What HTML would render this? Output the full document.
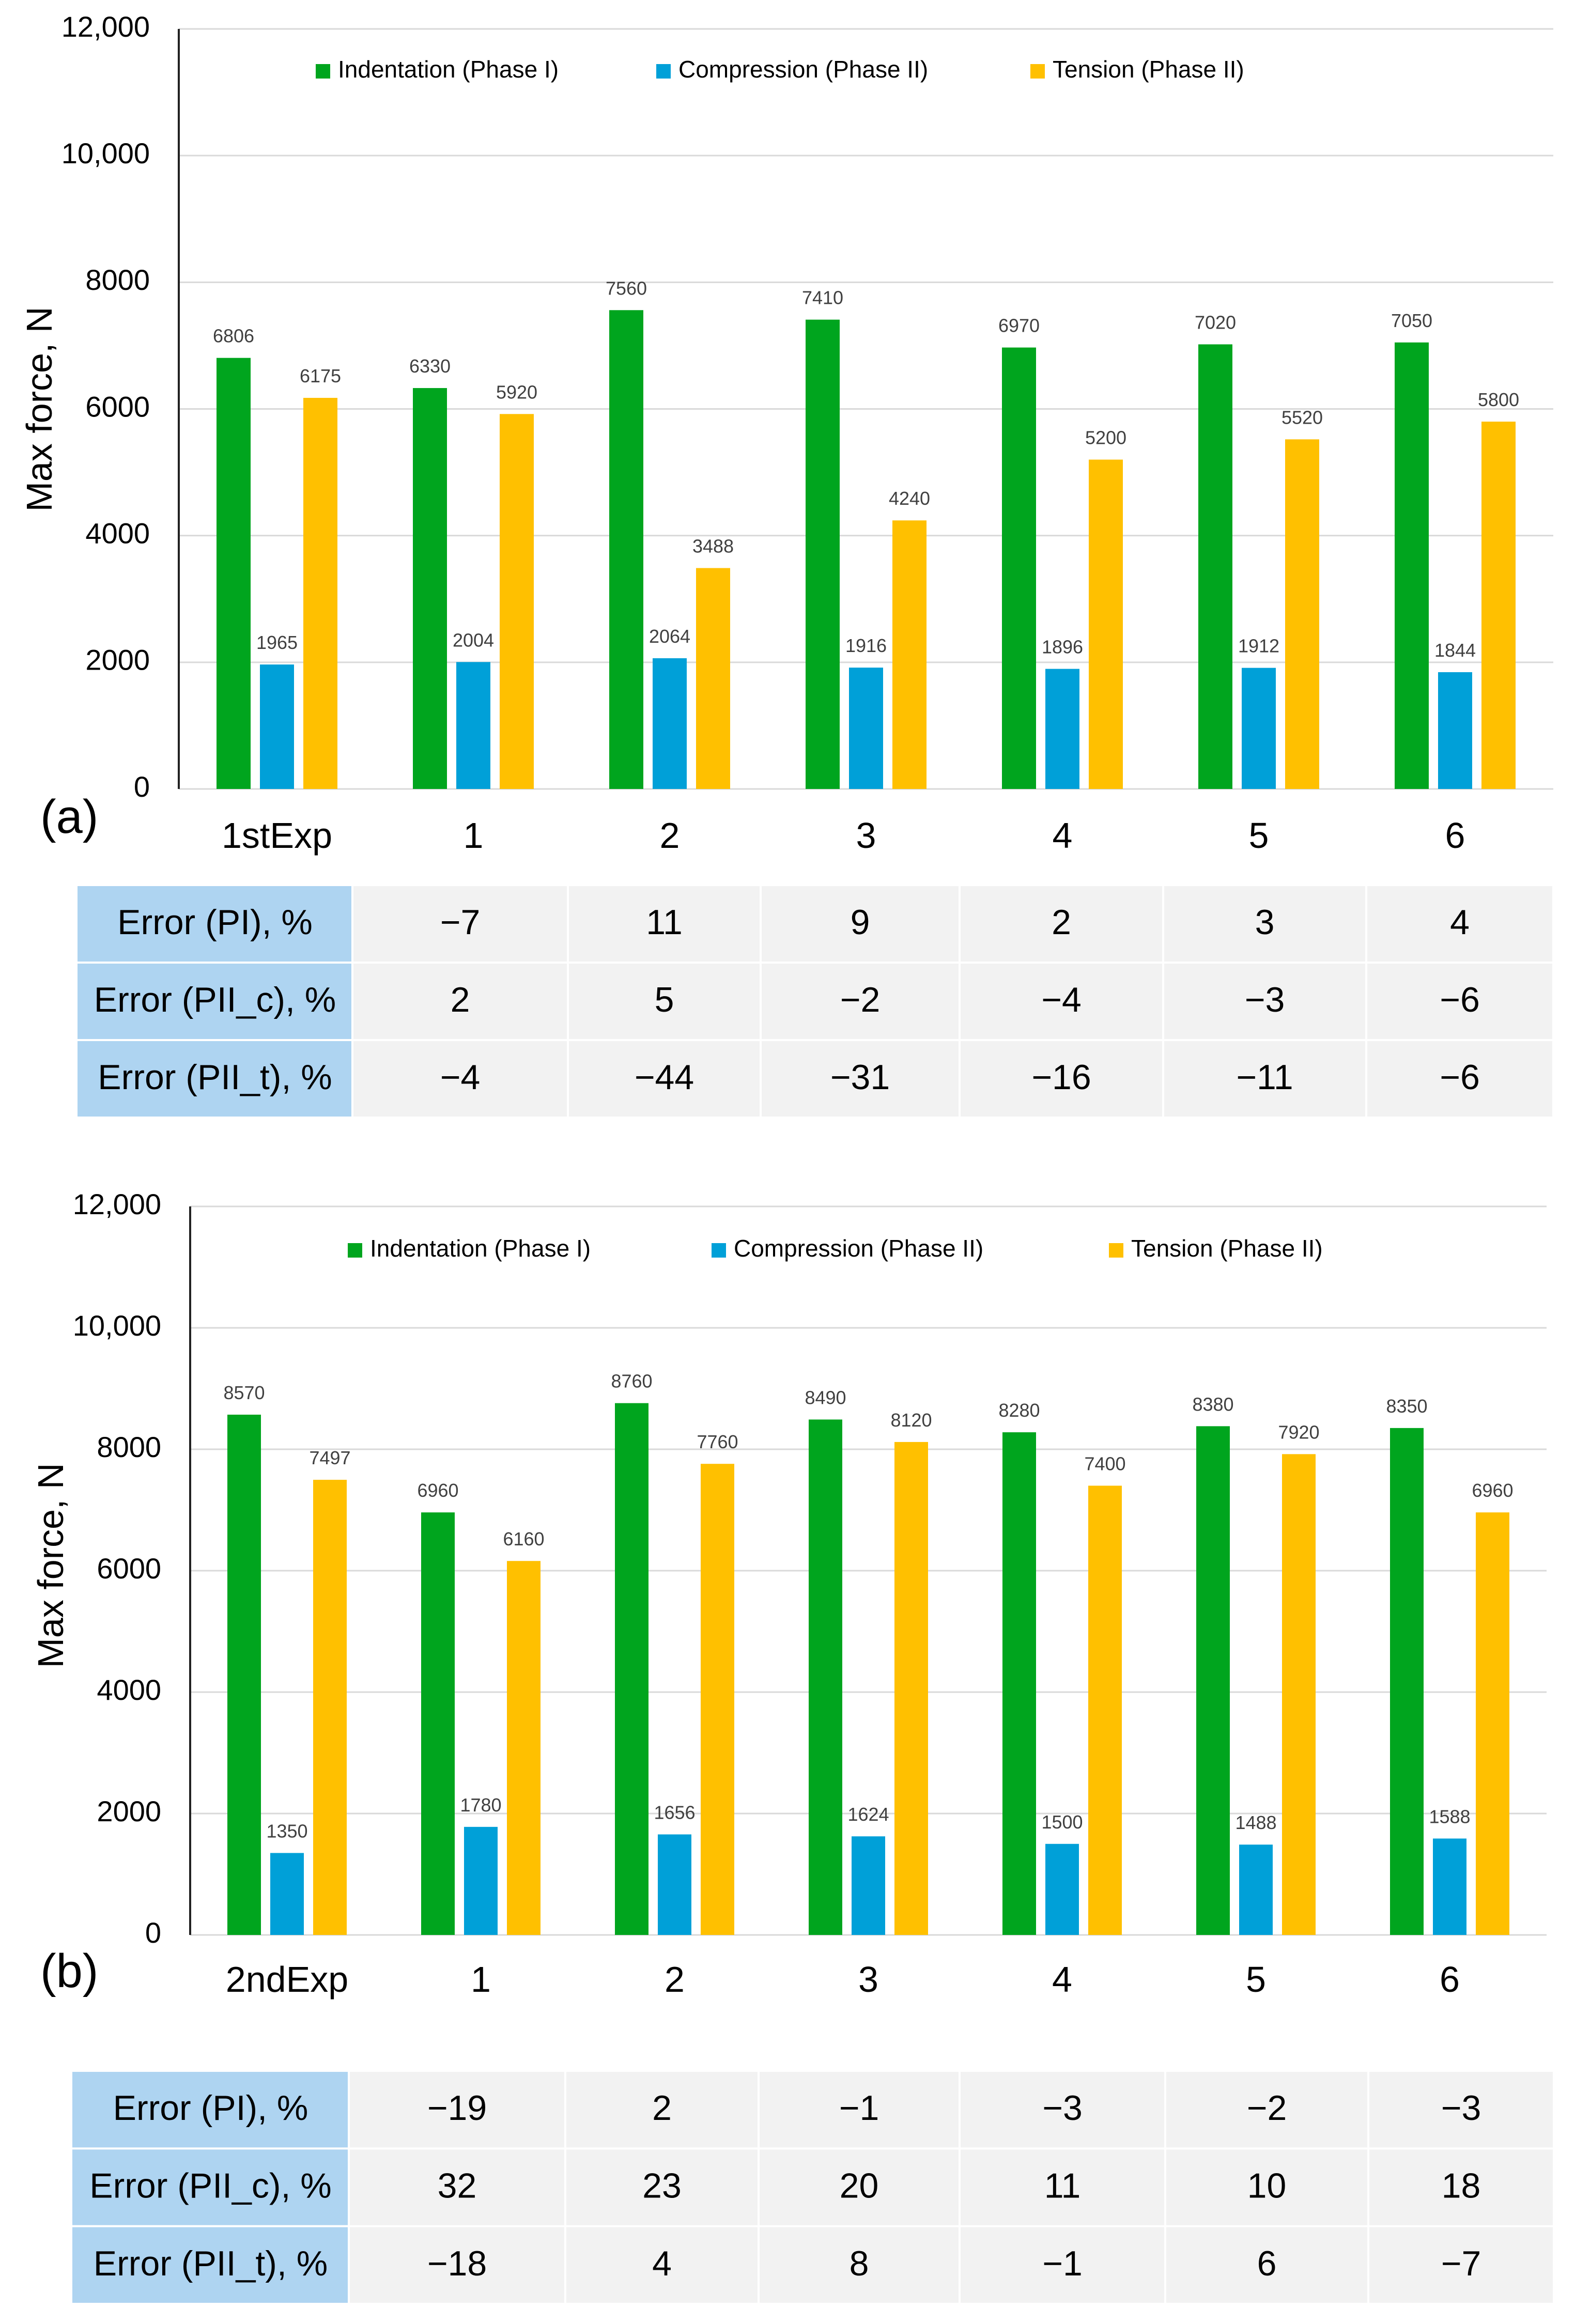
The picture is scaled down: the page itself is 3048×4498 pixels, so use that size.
<!DOCTYPE html>
<html><head><meta charset="utf-8"><style>
html,body{margin:0;padding:0;background:#fff;}
svg{display:block;font-family:"Liberation Sans",sans-serif;}
</style></head><body>
<svg id="svg" width="3048" height="4498" viewBox="0 0 3048 4498" xmlns="http://www.w3.org/2000/svg"></svg>
<script>
const catsA = ["1stExp","1","2","3","4","5","6"];
const indentA = [6806,6330,7560,7410,6970,7020,7050];
const compA = [1965,2004,2064,1916,1896,1912,1844];
const tensA = [6175,5920,3488,4240,5200,5520,5800];
const catsB = ["2ndExp","1","2","3","4","5","6"];
const indentB = [8570,6960,8760,8490,8280,8380,8350];
const compB = [1350,1780,1656,1624,1500,1488,1588];
const tensB = [7497,6160,7760,8120,7400,7920,6960];
const yTicks = [0,2000,4000,6000,8000,10000,12000];
const yTickLabels = ["0","2000","4000","6000","8000","10,000","12,000"];
const seriesNames = ["Indentation (Phase I)","Compression (Phase II)","Tension (Phase II)"];
const rowLabels = ["Error (PI), %","Error (PII_c), %","Error (PII_t), %"];
const errA_PI = ["\u22127","11","9","2","3","4"];
const errA_PIIc = ["2","5","\u22122","\u22124","\u22123","\u22126"];
const errA_PIIt = ["\u22124","\u221244","\u221231","\u221216","\u221211","\u22126"];
const errB_PI = ["\u221219","2","\u22121","\u22123","\u22122","\u22123"];
const errB_PIIc = ["32","23","20","11","10","18"];
const errB_PIIt = ["\u221218","4","8","\u22121","6","\u22127"];

const NS="http://www.w3.org/2000/svg";
const svg=document.getElementById('svg');
const colors=["#00A51E","#00A0D8","#FFC000"];
function mk(tag,attrs,parent){const e=document.createElementNS(NS,tag);for(const k in attrs)e.setAttribute(k,attrs[k]);(parent||svg).appendChild(e);return e;}

function chart(cfg){
  const g=mk('g',{});
  
  
  const yScale=v=>cfg.y0-(v/12000)*(cfg.y0-cfg.yTop);
  const band=(cfg.xR-cfg.x0)/cfg.cats.length;
  yTicks.forEach((t,i)=>{
    const y=yScale(t);
    if(t>0){const l=mk('line',{x1:cfg.x0,x2:cfg.xR,y1:y,y2:y,stroke:'#d9d9d9','stroke-width':3},g);
      
      }
    const tx=mk('text',{x:cfg.x0-56,y:y,'text-anchor':'end','dominant-baseline':'middle','font-size':56,fill:'#000'},g);
    tx.textContent=yTickLabels[i];
    
    
  });
  const base=mk('line',{x1:cfg.x0,x2:cfg.xR,y1:cfg.y0,y2:cfg.y0,stroke:'#d9d9d9','stroke-width':3},g);
  
  
  const ax=mk('line',{x1:cfg.x0,x2:cfg.x0,y1:cfg.yTop,y2:cfg.y0,stroke:'#222','stroke-width':4},g);
  
  
  const series=[cfg.s1,cfg.s2,cfg.s3];
  const bw=cfg.bw,gap=18,gw=3*bw+2*gap;
  cfg.cats.forEach((c,i)=>{
    const cx=cfg.x0+band*(i+0.5);
    series.forEach((s,k)=>{
      const x=cx-gw/2+k*(bw+gap);
      const yt=yScale(s[i]);
      const r=mk('rect',{x:x,y:yt,width:bw,height:cfg.y0-yt,fill:colors[k]},g);
      
      
      const t=mk('text',{x:x+bw/2,y:yt-30,'text-anchor':'middle','font-size':36,fill:'#404040'},g);
      t.textContent=s[i];
      
      
    });
    const ct=mk('text',{x:cx,y:cfg.catY,'text-anchor':'middle','font-size':70,fill:'#000'},g);
    ct.textContent=c;
    
    
  });
  const yt=mk('text',{x:0,y:0,'text-anchor':'middle','font-size':70,fill:'#000',transform:`translate(${cfg.titleX},${cfg.titleY}) rotate(-90)`},g);
  yt.textContent='Max force, N';
  
  
  const pl=mk('text',{x:cfg.panelX,y:cfg.panelY,'font-size':92,fill:'#000'},g);
  pl.textContent=cfg.panel;
  
  
  cfg.legX.forEach((lx,k)=>{
    const sq=mk('rect',{x:lx,y:cfg.legY-14,width:28,height:28,fill:colors[k]},g);
    
    
    const lt=mk('text',{x:lx+43,y:cfg.legY,'dominant-baseline':'middle','font-size':46,fill:'#000'},g);
    lt.textContent=seriesNames[k];
    
    
  });
}

function table(cfg){
  const g=mk('g',{});
  
  
  const rows=cfg.rows;
  const rh=(cfg.bottom-cfg.top)/3;
  rows.forEach((vals,r)=>{
    const y=cfg.top+r*rh;
    const lc=mk('rect',{x:cfg.cols[0],y:y+2,width:cfg.cols[1]-cfg.cols[0]-2,height:rh-4,fill:'#AED4F1'},g);
    
    
    const lt=mk('text',{x:(cfg.cols[0]+cfg.cols[1])/2,y:y+rh/2+2,'text-anchor':'middle','dominant-baseline':'middle','font-size':68,fill:'#000'},g);
    lt.textContent=rowLabels[r];
    
    
    vals.forEach((v,c)=>{
      const x0=cfg.cols[c+1],x1=cfg.cols[c+2];
      const cell=mk('rect',{x:x0+2,y:y+2,width:x1-x0-4,height:rh-4,fill:'#F2F2F2'},g);
      
      
      const t=mk('text',{x:(x0+x1)/2,y:y+rh/2+2,'text-anchor':'middle','dominant-baseline':'middle','font-size':68,fill:'#000'},g);
      t.textContent=v;
      
      
    });
  });
}

chart({name:'chart-a',cats:catsA,s1:indentA,s2:compA,s3:tensA,x0:346,xR:3006,y0:1527,yTop:56,bw:66,
  catY:1641,titleX:100,titleY:792,panel:'(a)',panelX:78,panelY:1612,legY:138,legX:611,legX:[611,1270,1994]});
chart({name:'chart-b',cats:catsB,s1:indentB,s2:compB,s3:tensB,x0:368,xR:2993,y0:3745,yTop:2335,bw:65,
  catY:3855,titleX:122,titleY:3030,panel:'(b)',panelX:78,panelY:3846,legX:[673,1377,2146],legY:2420});
table({name:'error-table-a',top:1713,bottom:2163,cols:[150,682,1099,1472,1857,2251,2644,3006],rows:[errA_PI,errA_PIIc,errA_PIIt]});
table({name:'error-table-b',top:4008,bottom:4459,cols:[140,675,1094,1468,1857,2255,2648,3007],rows:[errB_PI,errB_PIIc,errB_PIIt]});
</script>
</body></html>
